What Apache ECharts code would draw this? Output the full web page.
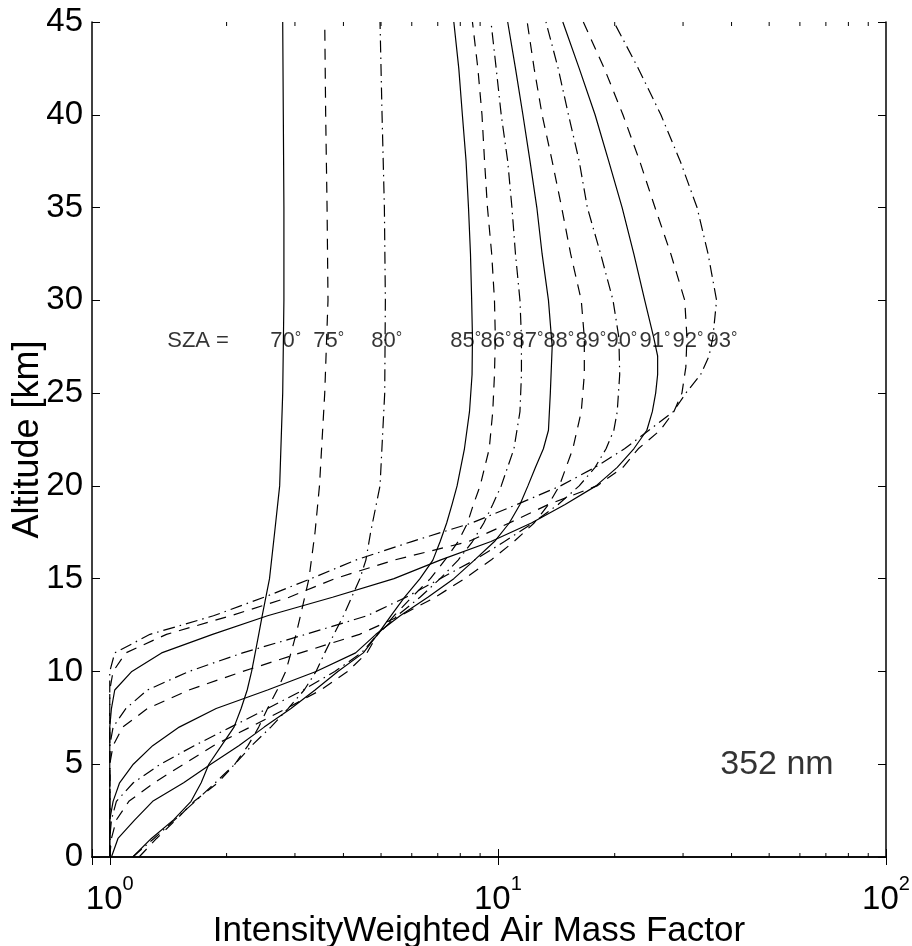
<!DOCTYPE html>
<html><head><meta charset="utf-8">
<script src="https://cdn.jsdelivr.net/npm/echarts@6/dist/echarts.min.js"></script>
<style>html,body{margin:0;padding:0;background:#fff}#c{width:912px;height:946px}</style>
</head><body><div id="c"></div>
<script>
// SZA curves: [altitude km, intensity weighted AMF]
const c70 = [[0,1.146],[1,1.28],[2,1.46],[3,1.62],[4,1.72],[5,1.8],[6,1.94],[7,2.09],[8,2.18],[9,2.26],[10,2.32],[11,2.37],[12,2.42],[13,2.47],[15,2.58],[17.5,2.66],[20,2.74],[25,2.79],[30,2.81],[35,2.81],[40,2.8],[45,2.79]];
const c75 = [[0,1.19],[1,1.32],[2,1.48],[3,1.65],[4,1.9],[5,2.1],[6,2.27],[7,2.42],[8,2.55],[9,2.7],[10,2.84],[11,2.93],[12,3.02],[13,3.1],[15,3.26],[17.5,3.38],[20,3.47],[25,3.58],[30,3.65],[35,3.63],[40,3.6],[45,3.58]];
const c80 = [[0,1.146],[1,1.3],[2,1.47],[3,1.66],[4,1.87],[5,2.1],[6,2.32],[7,2.6],[8,2.88],[9,3.17],[10,3.4],[11,3.58],[12,3.78],[13,4.0],[14,4.2],[15,4.41],[16,4.57],[17.5,4.7],[20,4.97],[25,5.11],[30,5.13],[35,5.1],[40,5.03],[45,4.97]];
const c85 = [[0,1.01],[1,1.05],[2,1.16],[3,1.29],[4,1.55],[5,1.82],[6,2.15],[7,2.5],[8,2.93],[9,3.38],[10,3.87],[11,4.5],[12,4.9],[13,5.3],[14,5.75],[15,6.3],[16,6.8],[17,7.1],[18,7.38],[19,7.62],[20,7.85],[22,8.2],[24,8.45],[26,8.58],[28,8.6],[30,8.56],[32.5,8.5],[35,8.4],[37.5,8.28],[40,8.1],[42.5,7.93],[45,7.7]];
const c86 = [[0,1.0],[1,1.01],[2,1.04],[3,1.12],[4,1.3],[5,1.55],[6,1.85],[7,2.3],[8,2.85],[9,3.5],[10,4.1],[11,4.6],[12,4.9],[13,5.4],[14,6.0],[15,6.7],[16,7.3],[17,7.9],[18,8.35],[19,8.65],[20,9.0],[22,9.5],[24,9.7],[26,9.8],[28,9.85],[30,9.8],[32.5,9.64],[35,9.4],[37.5,9.24],[40,9.1],[42.5,8.88],[45,8.6]];
const c87 = [[0,1.0],[1,1.0],[2,1.01],[3,1.04],[4,1.15],[5,1.35],[6,1.65],[7,2.05],[8,2.55],[9,3.15],[10,3.8],[11,4.45],[12,4.9],[13,5.5],[14,6.3],[15,7.1],[16,7.9],[17,8.6],[18,9.2],[19,9.7],[20,10.2],[22,11.0],[24,11.4],[26,11.5],[28,11.5],[30,11.4],[32.5,11.1],[35,10.87],[37.5,10.6],[40,10.2],[42.5,9.9],[45,9.6]];
const c88 = [[0,1.0],[2,1.0],[3,1.02],[4,1.06],[5,1.15],[6,1.29],[7,1.51],[8,1.88],[9,2.55],[10,3.4],[11,4.3],[12,4.85],[13,5.6],[14,6.6],[15,7.7],[16,8.7],[17,9.8],[18,10.7],[19,11.4],[20,11.95],[21,12.5],[22,13.1],[23,13.5],[25,13.65],[27.5,13.8],[30,13.5],[32.5,13.0],[35,12.6],[37.5,12.1],[40,11.6],[42.5,11.1],[45,10.6]];
const c89 = [[0,1.0],[5,1.0],[6,1.02],[7,1.08],[8,1.25],[9,1.6],[10,2.2],[11,3.1],[12,4.4],[13,5.6],[14,6.9],[15,8.2],[16,9.6],[17,11.0],[18,12.4],[19,13.5],[20,14.4],[22,15.6],[24,16.4],[26,16.7],[28,16.7],[30,16.4],[32.5,15.4],[35,14.6],[37.5,13.8],[40,13.0],[42.5,12.4],[45,11.9]];
const c90 = [[0,1.0],[6,1.0],[7,1.02],[8,1.1],[9,1.25],[10,1.6],[11,2.2],[12,3.2],[13,4.6],[14,5.8],[15,7.1],[16,8.7],[17,10.4],[18,12.3],[19,14.3],[20,16.2],[21,17.8],[22,19.0],[23,19.9],[24,20.3],[26,20.6],[28,20.5],[30,19.8],[32.5,18.4],[35,17.0],[37.5,16.2],[40,15.2],[42.5,14.3],[45,13.3]];
const c91 = [[0,1.0],[7,1.0],[8,1.01],[9,1.03],[10,1.14],[11,1.36],[12,1.84],[13,2.55],[14,3.75],[15,5.4],[16,7.1],[17,9.6],[18,12.2],[19,14.9],[20,17.9],[21,20.3],[22,22.4],[23,24.2],[24,25.0],[25,25.5],[26,25.8],[27,25.8],[28,25.2],[30,23.9],[32.5,22.4],[35,20.9],[37.5,19.3],[40,17.8],[42.5,16.2],[45,14.7]];
const c92 = [[0,1.0],[9,1.0],[10,1.02],[11,1.1],[12,1.4],[13,2.05],[14,2.9],[15,3.8],[16,5.4],[17,8.4],[18,10.7],[19,13.5],[20,18.0],[21,21.0],[22,23.0],[23,26.2],[24,28.4],[25,29.8],[26.4,30.5],[28,30.7],[30,30.3],[32.5,27.9],[35,25.4],[37.5,23.2],[40,21.0],[42.5,18.8],[45,16.6]];
const c93 = [[0,1.0],[10,1.0],[11,1.03],[12,1.27],[13,1.85],[14,2.5],[15,3.3],[16,4.3],[17,6.0],[18,8.56],[19,11.2],[20,14.5],[21,17.8],[22,21.2],[23,24.5],[24,28.3],[25,30.5],[26,33.3],[27,35.0],[28,35.8],[30,36.6],[32.5,34.8],[35,32.6],[37.5,29.5],[40,26.3],[42.5,23.0],[45,19.9]];

const szaAngles = [70,75,80,85,86,87,88,89,90,91,92,93];
const curves = [c70,c75,c80,c85,c86,c87,c88,c89,c90,c91,c92,c93];
const styleCycle = ['solid','dashed','dashdot'];

// in-plot text labels
const szaLabelX = [2.585,3.336,4.707,7.52,8.99,10.87,13.06,15.79,18.98,23.09,28.09,34.37];
const szaLabelAlt = 27.8;
const szaPrefixX = 1.402;
const waveLabel = '352 nm';
const waveLabelPos = [37.3, 5.0];

const xMajorTicks = [1,10,100];
const xMinorTicks = [2,3,4,5,6,7,8,9,20,30,40,50,60,70,80,90];
const xMin = 0.9, xMax = 100, yMin = 0, yMax = 45, yStep = 5;

const FONT = '"Liberation Sans", Arial, Helvetica, sans-serif';
const dashOf = {solid:'solid', dashed:[11,8], dashdot:[12,5,1.5,5]};

const chart = echarts.init(document.getElementById('c'), null, {renderer:'canvas'});

const lineSeries = curves.map((c,i)=>({
  type:'line', name: szaAngles[i]+'°', xAxisIndex:0, yAxisIndex:0,
  data: c.map(p=>[p[1],p[0]]), showSymbol:false, symbol:'none', silent:true,
  lineStyle:{color:'#000', width:1.2, type: dashOf[styleCycle[i%3]], cap:'butt'},
  z:3
}));

const labelData = [{value:[szaPrefixX, szaLabelAlt], label:{formatter:'{n|SZA =}'}}]
  .concat(szaAngles.map((a,i)=>({value:[szaLabelX[i], szaLabelAlt], label:{formatter:'{n|'+a+'}{d|°}'}})))
  .concat([{value:waveLabelPos, label:{formatter:'{w|'+waveLabel+'}'}}]);

const tickSeries = {
  type:'custom', xAxisIndex:0, yAxisIndex:0, silent:true, clip:false,
  data: xMinorTicks.map(v=>[v, yMin]),
  renderItem(params, api){
    const v = api.value(0);
    const b = api.coord([v, yMin]), t = api.coord([v, yMax]);
    return {type:'group', children:[
      {type:'line', shape:{x1:b[0],y1:b[1],x2:b[0],y2:b[1]-4}, style:{stroke:'#000',lineWidth:1}},
      {type:'line', shape:{x1:t[0],y1:t[1],x2:t[0],y2:t[1]+4}, style:{stroke:'#000',lineWidth:1}}
    ]};
  }
};

function isMajor(v){ return xMajorTicks.some(m=>Math.abs(m-v)<1e-9*m); }
const xLabelRich = {
  b:{fontSize:33, fontFamily:FONT, color:'#000', lineHeight:52},
  s:{fontSize:20, fontFamily:FONT, color:'#000', lineHeight:20, verticalAlign:'top'}
};

const axisCommonX = {
  type:'log', logBase:10, min:xMin, max:xMax,
  axisLine:{show:true, lineStyle:{color:'#000', width:1.5}},
  axisTick:{show:true, inside:true, length:8, lineStyle:{color:'#000', width:1}},
  splitLine:{show:false}, minorTick:{show:false}
};
const axisCommonY = {
  type:'value', min:yMin, max:yMax, interval:yStep,
  axisLine:{show:true, lineStyle:{color:'#000', width:1.5}},
  axisTick:{show:true, inside:true, length:8, lineStyle:{color:'#000', width:1}},
  splitLine:{show:false}
};

chart.setOption({
  animation:false,
  backgroundColor:'#fff',
  textStyle:{color:'#000', fontFamily:FONT},
  grid:{left:92, right:26, top:22, bottom:89, containLabel:false, outerBoundsMode:'none'},
  xAxis:[
    Object.assign({}, axisCommonX, {position:'bottom',
      name:'IntensityWeighted Air Mass Factor', nameLocation:'middle', nameGap:57, nameMoveOverlap:false,
      nameTextStyle:{fontSize:35, fontFamily:FONT, color:'#000', padding:[0,20,0,0]},
      axisLabel:{show:true, margin:17, showMinLabel:true, showMaxLabel:true, color:'#000',
        formatter:(v)=> isMajor(v) ? '{b|10}{s|'+Math.round(Math.log10(v))+'}' : '',
        rich:xLabelRich}}),
    Object.assign({}, axisCommonX, {position:'top', axisLabel:{show:false}})
  ],
  yAxis:[
    Object.assign({}, axisCommonY, {position:'left',
      name:'Altitude [km]', nameLocation:'middle', nameGap:46, nameRotate:90, nameMoveOverlap:false,
      nameTextStyle:{fontSize:36, fontFamily:FONT, color:'#000'},
      axisLabel:{show:true, margin:9, fontSize:33, fontFamily:FONT, color:'#000'}}),
    Object.assign({}, axisCommonY, {position:'right', axisLabel:{show:false}})
  ],
  series: lineSeries.concat([tickSeries, {
    type:'scatter', xAxisIndex:0, yAxisIndex:0, silent:true, symbolSize:1,
    itemStyle:{color:'rgba(0,0,0,0)'},
    data: labelData,
    label:{show:true, position:'right', distance:0, align:'left', verticalAlign:'middle', color:'#000',
      rich:{
        n:{fontSize:22, fontFamily:FONT, color:'#000'},
        d:{fontSize:16, fontFamily:FONT, color:'#000', verticalAlign:'top', lineHeight:16},
        w:{fontSize:34, fontFamily:FONT, color:'#000'}
      }},
    z:5
  }])
});
</script></body></html>
